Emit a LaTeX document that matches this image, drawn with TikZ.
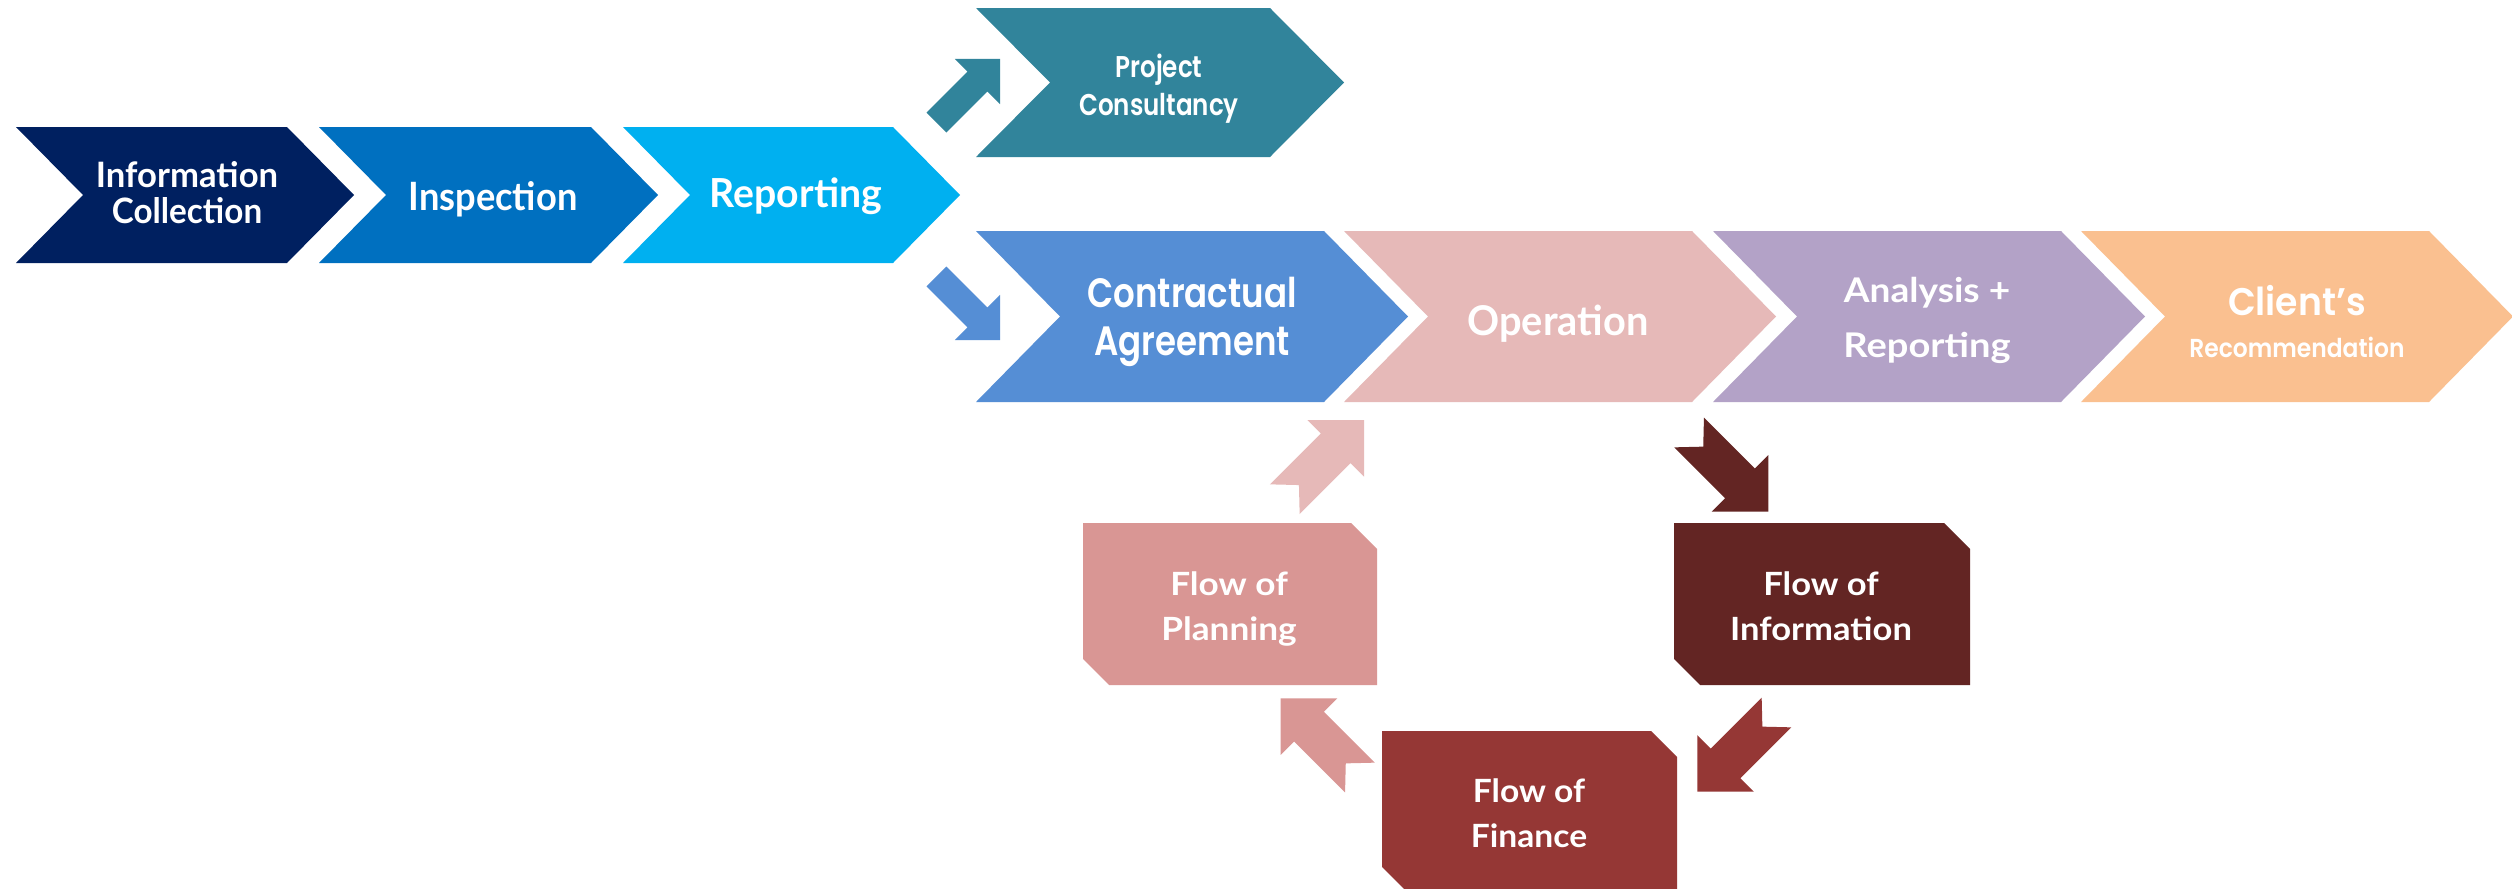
\documentclass[tikz,border=0pt]{standalone}
\usepackage{fontspec}
\usepackage{graphicx}
\newfontfamily\latofont{Lato}
\newfontfamily\popfont{Poppins SemiBold}
\definecolor{cNavy}{RGB}{0,32,96}
\definecolor{cBlue}{RGB}{0,112,192}
\definecolor{cSky}{RGB}{0,176,240}
\definecolor{cTeal}{RGB}{49,132,155}
\definecolor{cCorn}{RGB}{85,142,213}
\definecolor{cRose}{RGB}{230,185,184}
\definecolor{cLav}{RGB}{179,162,199}
\definecolor{cPeach}{RGB}{250,192,144}
\definecolor{cPink}{RGB}{217,150,148}
\definecolor{cMaroon}{RGB}{99,37,35}
\definecolor{cBrick}{RGB}{149,55,53}
\newcommand{\hs}[2]{\scalebox{#1}[1]{#2}}
% chevron: colour, left, shoulder, top, bottom, depth
\newcommand{\mychev}[6]{\fill[#1] (#2,#4) -- (#3,#4) -- ({#3+#6},{(#4+#5)/2}) -- (#3,#5) -- (#2,#5) -- ({#2+#6},{(#4+#5)/2}) -- cycle;}
% snipped box: colour, x1, y1, x2, y2
\newcommand{\mysnip}[5]{\fill[#1] (#2,#3) -- ({#4-26},#3) -- (#4,{#3+26}) -- (#4,#5) -- ({#2+26},#5) -- (#2,{#5-26}) -- cycle;}
% notched block arrow: colour, tail x, tail y, angle
\newcommand{\myarrowN}[4]{\fill[#1,shift={(#2,#3)},rotate=#4] (0,-21) -- (72,-21) -- (72,-40) -- (112,0) -- (72,40) -- (72,21) -- (0,21) -- (20,0) -- cycle;}
% plain block arrow: colour, tail x, tail y, angle
\newcommand{\myarrowP}[4]{\fill[#1,shift={(#2,#3)},rotate=#4] (0,-14) -- (58,-14) -- (58,-32) -- (90,0) -- (58,32) -- (58,14) -- (0,14) -- cycle;}
\begin{document}
\begin{tikzpicture}[x=1pt,y=-1pt,
  txt/.style={text=white, inner sep=0pt, align=center, anchor=base}]
\useasboundingbox (0,0) rectangle (2512,889);
\clip (0,0) rectangle (2512,889);
\fill[white] (0,0) rectangle (2512,889);
% first row
\mychev{cNavy}{16}{287}{127}{263}{67}
\mychev{cBlue}{319}{591}{127}{263}{67}
\mychev{cSky}{623}{893}{127}{263}{67}
% project consultancy
\mychev{cTeal}{976}{1270}{8}{157}{74}
% second row
\mychev{cCorn}{976}{1324}{231}{402}{84}
\mychev{cRose}{1344}{1692}{231}{402}{84}
\mychev{cLav}{1713}{2061}{231}{402}{84}
\mychev{cPeach}{2081}{2429}{231}{402}{84}
% boxes
\mysnip{cPink}{1083}{523}{1377}{685}
\mysnip{cMaroon}{1674}{523}{1970}{685}
\mysnip{cBrick}{1382}{731}{1677}{893}
% block arrows
\myarrowP{cTeal}{936.4}{122.6}{45}
\myarrowP{cCorn}{936.4}{276.4}{-45}
\myarrowN{cRose}{1284.8}{499.2}{45}
\myarrowN{cMaroon}{1689.1}{432.5}{-45}
\myarrowN{cBrick}{1776.5}{712.5}{-135}
\myarrowN{cPink}{1359.9}{777.5}{135}
% texts (anchor = baseline of the last line)
\node[txt, font=\latofont\bfseries\fontsize{35}{36}\selectfont] (ic) at (187,223) {\hs{0.99}{Information}\\\hs{0.95}{Collection}};
\node[txt, font=\latofont\bfseries\fontsize{39}{39}\selectfont] (insp) at (493,210) {\hs{0.93}{Inspection}};
\node[txt, font=\latofont\bfseries\fontsize{40}{40}\selectfont] (rep) at (796,207) {\hs{0.98}{Reporting}};
\node[txt, font=\popfont\fontsize{30}{38}\selectfont] (pc) at (1159,115) {\hs{0.82}{Project}\\\hs{0.82}{Consultancy}};
\node[txt, font=\popfont\fontsize{41}{48}\selectfont] (ca) at (1192,355) {\hs{0.83}{Contractual}\\\hs{0.83}{Agreement}};
\node[txt, font=\latofont\bfseries\fontsize{41}{41}\selectfont] (op) at (1558,335) {\hs{0.97}{Operation}};
\node[txt, font=\latofont\bfseries\fontsize{34}{55}\selectfont] (ar) at (1927,357) {\hs{1.09}{Analysis +}\\\hs{1.12}{Reporting}};
\node[txt, font=\popfont\fontsize{38.5}{42}\selectfont] (cr) at (2297,357) {\hs{0.94}{Client’s}\\\fontsize{26}{42}\selectfont\hs{0.9}{Recommendation}};
\node[txt, font=\latofont\bfseries\fontsize{32}{45}\selectfont] (fp) at (1229,640) {\hs{1.1}{Flow of}\\\hs{1.1}{Planning}};
\node[txt, font=\latofont\bfseries\fontsize{32}{45}\selectfont] (fi) at (1821,640) {\hs{1.08}{Flow of}\\\hs{1.08}{Information}};
\node[txt, font=\latofont\bfseries\fontsize{32}{45}\selectfont] (ff) at (1529,847) {\hs{1.05}{Flow of}\\\hs{1.05}{Finance}};
\end{tikzpicture}
\end{document}
